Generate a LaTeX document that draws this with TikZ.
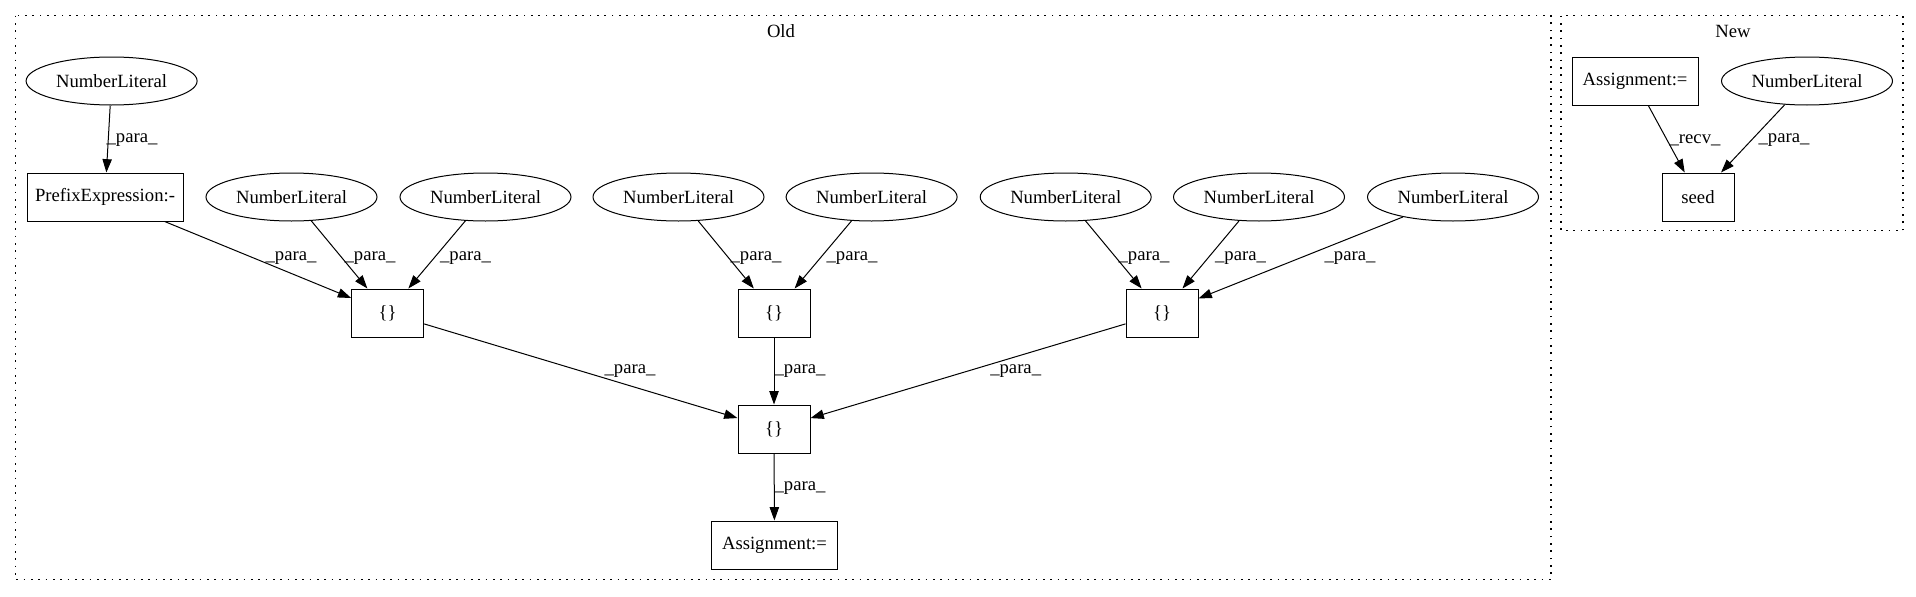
\documentclass[tikz,border=0pt]{standalone}
\usepackage{fontspec}
\setmainfont{Liberation Serif}
\usetikzlibrary{arrows.meta,shapes.geometric}

\begin{document}
\begin{tikzpicture}[x=0.75pt,y=-0.75pt,
  every node/.style={font=\fontsize{14}{16}\selectfont},
  lit/.style={ellipse, draw, line width=0.75pt, inner sep=0pt, minimum width=128.25pt, minimum height=36pt},
  box/.style={rectangle, draw, line width=0.75pt, inner sep=0pt, minimum height=36pt},
  edge/.style={draw, line width=0.75pt, -{Triangle[length=10pt,width=7pt]}},
  lbl/.style={inner sep=0pt},
  cluster/.style={draw, line width=1pt, dash pattern=on 1.2pt off 4.3pt}]
\useasboundingbox (0,0) rectangle (1916,596);

% clusters
\draw[cluster] (15.3,15.7) rectangle (1551,579.3);
\draw[cluster] (1561,15.7) rectangle (1903,230.7);
\node (old) at (781,30.7) {Old};
\node (new) at (1733,31) {New};

% Old
\node (nl1) at (111.6,81) [lit] {NumberLiteral};
\node (pe) at (105,197) [box, minimum width=117pt] {PrefixExpression:-};
\node (nl2) at (291.5,197) [lit] {NumberLiteral};
\node (nl3) at (485.5,197) [lit] {NumberLiteral};
\node (nl4) at (678.5,197) [lit] {NumberLiteral};
\node (nl5) at (871.6,197) [lit] {NumberLiteral};
\node (nl6) at (1065.7,197) [lit] {NumberLiteral};
\node (nl7) at (1259,197) [lit] {NumberLiteral};
\node (nl8) at (1453,197) [lit] {NumberLiteral};

\node (br1) at (387.7,313) [box, minimum width=54pt] {\{\}};
\node (br2) at (774,313) [box, minimum width=54pt] {\{\}};
\node (br3) at (1162,313) [box, minimum width=54pt] {\{\}};
\node (brc) at (774,429) [box, minimum width=54pt] {\{\}};
\node (asg) at (774.5,545) [box, minimum width=94.5pt] {Assignment:=};

\draw[edge] (nl1) -- (pe) node[lbl] at (132,140) {\_para\_};
\draw[edge] (pe) -- (br1) node[lbl] at (291,257.8) {\_para\_};
\draw[edge] (nl2) -- (br1) node[lbl] at (370,257.8) {\_para\_};
\draw[edge] (nl3) -- (br1) node[lbl] at (465.5,257.8) {\_para\_};
\draw[edge] (nl4) -- (br2) node[lbl] at (756,257.8) {\_para\_};
\draw[edge] (nl5) -- (br2) node[lbl] at (852,257.8) {\_para\_};
\draw[edge] (nl6) -- (br3) node[lbl] at (1144,257.8) {\_para\_};
\draw[edge] (nl7) -- (br3) node[lbl] at (1240.5,257.8) {\_para\_};
\draw[edge] (nl8) -- (br3) node[lbl] at (1350,257.8) {\_para\_};

\draw[edge] (br1) -- (brc) node[lbl] at (630,371.5) {\_para\_};
\draw[edge] (br2) -- (brc) node[lbl] at (800,371.5) {\_para\_};
\draw[edge] (br3) -- (brc) node[lbl] at (1015.7,371.5) {\_para\_};
\draw[edge] (brc) -- (asg) node[lbl] at (800,488.5) {\_para\_};

% New
\node (asgn) at (1635,81) [box, minimum width=94.5pt] {Assignment:=};
\node (nln) at (1807,81) [lit] {NumberLiteral};
\node (seed) at (1698,197) [box, minimum width=54pt] {seed};

\draw[edge] (asgn) -- (seed) node[lbl] at (1695,140) {\_recv\_};
\draw[edge] (nln) -- (seed) node[lbl] at (1784,140) {\_para\_};

\end{tikzpicture}
\end{document}
